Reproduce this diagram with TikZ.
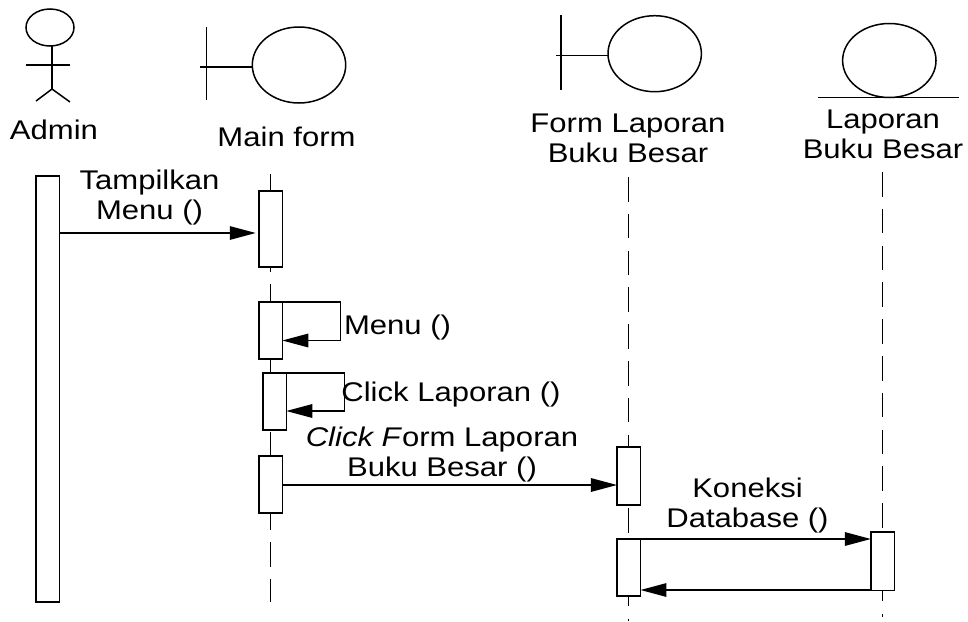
\documentclass[tikz,border=0pt]{standalone}
\usepackage{fontspec}
\setmainfont[FakeStretch=1.15]{Liberation Sans}
\usetikzlibrary{arrows.meta,shapes.geometric}
\tikzset{
	every node/.style={inner sep=0pt,outer sep=0pt,font=\fontsize{27}{30}\selectfont},
	label/.style={align=center,anchor=base},
	ball/.style={draw,ellipse,minimum width=93.4pt,minimum height=76pt},
	actbar/.style={draw,fill=white,minimum width=23.5pt},
	msg/.style={-{Triangle[length=26pt,width=13.5pt]}},
	life/.style={dash pattern=on 24.5pt off 12.3pt}
}
\begin{document}
\begin{tikzpicture}[x=1pt,y=-1pt,line width=1.5pt]
	\useasboundingbox (0,0) rectangle (968,621);
	\path
		(270.5,174) coordinate (MainTop)
		(270.5,602) coordinate (MainEnd)
		(628.7,177) coordinate (FormTop)
		(628.7,620.5) coordinate (FormEnd)
		(882.3,172) coordinate (DataTop)
		(882.3,617) coordinate (DataEnd)
		(0,233) coordinate (y1)
		(0,485) coordinate (y2)
		(0,539) coordinate (y3)
		(0,590) coordinate (y4)
		(340.5,340.5) coordinate (loopB)
		(344.5,411) coordinate (loopC)
	;
	% Lifelines
	\draw[life] (MainTop)--(MainEnd);
	\draw[life] (FormTop)--(FormEnd);
	\draw[life] (DataTop)--(DataEnd);
	% Actor
	\node[draw,ellipse,minimum width=48pt,minimum height=37pt] (head) at (50,27.5) {};
	\path (52,46) coordinate (neck) (52,89) coordinate (hip) (26,65) coordinate (armL) (70,65) coordinate (armR)
		(36,101) coordinate (legL) (70,102) coordinate (legR);
	\draw(neck)--(hip);
	\draw(armL)--(armR);
	\draw(legL)--(hip)--(legR);
	% Boundaries
	\node[ball] (mainball) at (299,65) {};
	\path (206.5,27) coordinate (mainT) (206.5,100) coordinate (mainB) (200,67) coordinate (mainH);
	\draw(mainT)--(mainB);
	\draw(mainH)--(mainball.west |- mainH);
	\node[ball] (formball) at (654.7,53.7) {};
	\path (561,15) coordinate (formT) (561,90) coordinate (formB) (556,55.7) coordinate (formH);
	\draw(formT)--(formB);
	\draw(formH)--(formball.west |- formH);
	% Entity
	\node[ball,minimum height=74pt] (databall) at (889.3,60.5) {};
	\path (818,97.5) coordinate (dataL) (958.7,97.5) coordinate (dataR);
	\draw(dataL)--(dataR);
	% Bars
	\node[actbar,minimum height=426pt] (barAdmin) at (47.7,389) {};
	\node[actbar,minimum height=76pt] (barMainA) at (270.5,229) {};
	\node[actbar,minimum height=57pt] (barMainB) at (270.5,330.5) {};
	\node[actbar,minimum height=57pt] (barMainC) at (274.5,401.5) {};
	\node[actbar,minimum height=57pt] (barMainD) at (270.5,484.5) {};
	\node[actbar,minimum height=58pt] (barFormA) at (628.7,476) {};
	\node[actbar,minimum height=57pt] (barFormB) at (628.7,567.5) {};
	\node[actbar,minimum height=58.5pt] (barData) at (882.6,561) {};
	% Messages
	\draw[msg,shorten >=3pt] (barAdmin.east |- y1)--(barMainA.west |- y1);
	\draw[msg] (barMainB.north east)-|(loopB)--(barMainB.east |- loopB);
	\draw[msg] (barMainC.north east)-|(loopC)--(barMainC.east |- loopC);
	\draw[msg] (barMainD.east |- y2)--(barFormA.west |- y2);
	\draw[msg] (barFormB.east |- y3)--(barData.west |- y3);
	\draw[msg] (barData.west |- y4)--(barFormB.east |- y4);
	% Annotations
	\node[label] (adminlabel) at (54,139) {Admin};
	\node[label] (mainlabel) at (286.5,146) {Main form};
	\node (formlabel) at (628,138) [align=center] {Form Laporan\\Buku Besar};
	\node (datalabel) at (883,134) [align=center] {Laporan\\Buku Besar};
	\node (menulabel) at (149.5,198) [align=center] {Tampilkan\\Menu ()};
	\node[label] (selflabelA) at (397.5,334) {Menu ()};
	\node[label] (selflabelB) at (451,401) {Click Laporan ()};
	\node (clicklabel) at (442,455) [align=center] {\textit{Click F}orm Laporan\\Buku Besar ()};
	\node (dblabel) at (747.5,506) [align=center] {Koneksi\\Database ()};
\end{tikzpicture}
\end{document}
